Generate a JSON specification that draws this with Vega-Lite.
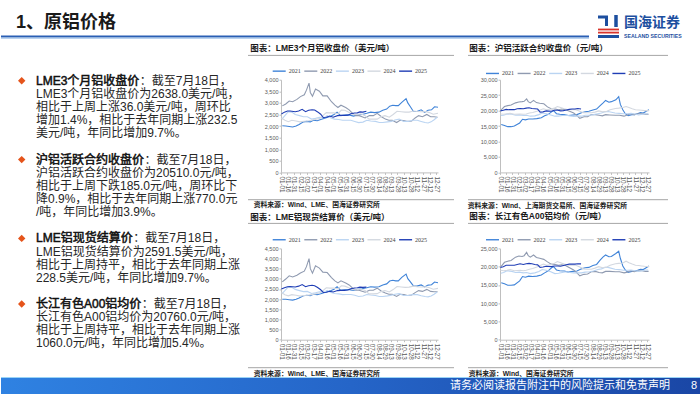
{
"$schema":"https://vega.github.io/schema/vega-lite/v6.json",
"background":"white","padding":0,"bounds":"flush","columns":3,"align":"each","spacing":{"row":75.7,"column":62},
"resolve":{"scale":{"color":"independent"},"legend":{"color":"independent"}},
"config":{"view":{"stroke":null},"font":"'Liberation Sans','Noto Sans CJK SC',sans-serif",
"axis":{"title":null,"grid":false,"domainColor":"#bfbfbf","tickColor":"#bfbfbf","labelColor":"#595959","labelFont":"Liberation Sans","tickSize":2},
"axisX":{"labelAngle":90,"labelAlign":"left","labelBaseline":"middle","labelFontSize":6.3,"labelPadding":1.5,"labelOverlap":false,"labelFlush":false},
"axisY":{"labelFontSize":5.5,"labelPadding":1},
"legend":{"orient":"none","direction":"horizontal","symbolType":"stroke","symbolSize":169,"symbolStrokeWidth":1.4,"labelFont":"Liberation Serif","labelFontSize":6,"labelColor":"#404040","labelOffset":2,"columnPadding":0.6,"padding":0}},
"concat":[
{"width":218,"height":1.6,
"data":{"values":[
{"line":0,"h":"LME3个月铝收盘价","r":"：截至7月18日，"},
{"line":1,"t":"LME3个月铝收盘价为2638.0美元/吨，"},
{"line":2,"t":"相比于上周上涨36.0美元/吨，周环比"},
{"line":3,"t":"增加1.4%，相比于去年同期上涨232.5"},
{"line":4,"t":"美元/吨，年同比增加9.7%。"},
{"line":6,"h":"沪铝活跃合约收盘价","r":"：截至7月18日，"},
{"line":7,"t":"沪铝活跃合约收盘价为20510.0元/吨，"},
{"line":8,"t":"相比于上周下跌185.0元/吨，周环比下"},
{"line":9,"t":"降0.9%，相比于去年同期上涨770.0元"},
{"line":10,"t":"/吨，年同比增加3.9%。"},
{"line":12,"h":"LME铝现货结算价","r":"：截至7月18日，"},
{"line":13,"t":"LME铝现货结算价为2591.5美元/吨，"},
{"line":14,"t":"相比于上周持平，相比于去年同期上涨"},
{"line":15,"t":"228.5美元/吨，年同比增加9.7%。"},
{"line":17,"h":"长江有色A00铝均价","r":"：截至7月18日，"},
{"line":18,"t":"长江有色A00铝均价为20760.0元/吨，"},
{"line":19,"t":"相比于上周持平，相比于去年同期上涨"},
{"line":20,"t":"1060.0元/吨，年同比增加5.4%。"}]},
"layer":[
{"transform":[{"filter":"datum.t"}],"mark":{"type":"text","align":"left","baseline":"middle","fontSize":12,"color":"#262626"},
 "encoding":{"text":{"field":"t"},"x":{"value":35},"y":{"field":"line","type":"quantitative","scale":{"domain":[-4.02,23.92],"range":[0,394]},"axis":null}}},
{"transform":[{"filter":"datum.h"}],"mark":{"type":"text","align":"left","baseline":"middle","fontSize":12,"color":"#111111","stroke":"#111111","strokeWidth":0.5},
 "encoding":{"text":{"field":"h"},"x":{"value":35},"y":{"field":"line","type":"quantitative"}}},
{"transform":[{"filter":"datum.line == 0"}],"mark":{"type":"text","align":"left","baseline":"middle","fontSize":12,"color":"#262626"},
 "encoding":{"text":{"field":"r"},"x":{"value":138.8},"y":{"field":"line","type":"quantitative"}}},
{"transform":[{"filter":"datum.line == 6"}],"mark":{"type":"text","align":"left","baseline":"middle","fontSize":12,"color":"#262626"},
 "encoding":{"text":{"field":"r"},"x":{"value":143.5},"y":{"field":"line","type":"quantitative"}}},
{"transform":[{"filter":"datum.line == 12"}],"mark":{"type":"text","align":"left","baseline":"middle","fontSize":12,"color":"#262626"},
 "encoding":{"text":{"field":"r"},"x":{"value":132.2},"y":{"field":"line","type":"quantitative"}}},
{"transform":[{"filter":"datum.line == 17"}],"mark":{"type":"text","align":"left","baseline":"middle","fontSize":12,"color":"#262626"},
 "encoding":{"text":{"field":"r"},"x":{"value":140.8},"y":{"field":"line","type":"quantitative"}}},
{"transform":[{"filter":"datum.h"}],"mark":{"type":"point","shape":"diamond","filled":true,"color":"#e5541b","size":55,"opacity":1},
 "encoding":{"x":{"value":20.7},"y":{"field":"line","type":"quantitative"}}},
{"data":{"values":[{"t":"1、原铝价格"}]},"mark":{"type":"text","align":"left","baseline":"middle","fontSize":18,"fontWeight":"bold","color":"#1a1a1a"},
 "encoding":{"text":{"field":"t"},"x":{"value":15},"y":{"value":21}}},
{"data":{"values":[{}]},"mark":{"type":"rule","color":"#2a5fb4","strokeWidth":2},"encoding":{"x":{"value":0},"x2":{"value":588},"y":{"value":34.5}}},
{"data":{"values":[{}]},"mark":{"type":"rule","color":"#9cc0e8","strokeWidth":1},"encoding":{"x":{"value":0},"x2":{"value":588},"y":{"value":36.2}}},
{"data":{"values":[{"t":"国海证券"}]},"mark":{"type":"text","align":"left","baseline":"middle","fontSize":14,"fontWeight":"bold","color":"#1d4f9f"},
 "encoding":{"text":{"field":"t"},"x":{"value":623},"y":{"value":21}}},
{"data":{"values":[{"t":"SEALAND SECURITIES"}]},"mark":{"type":"text","align":"left","baseline":"middle","fontSize":5.2,"fontWeight":"bold","color":"#1d4f9f","font":"Liberation Sans"},
 "encoding":{"text":{"field":"t"},"x":{"value":623},"y":{"value":33.5}}},
{"data":{"values":[{}]},"mark":{"type":"rule","color":"#1d4f9f","strokeWidth":3},"encoding":{"x":{"value":597},"x2":{"value":607},"y":{"value":15}}},
{"data":{"values":[{}]},"mark":{"type":"rule","color":"#1d4f9f","strokeWidth":3},"encoding":{"x":{"value":605.5},"y":{"value":15},"y2":{"value":24}}},
{"data":{"values":[{}]},"mark":{"type":"rule","color":"#1d4f9f","strokeWidth":3.5},"encoding":{"x":{"value":615},"y":{"value":13},"y2":{"value":25}}},
{"data":{"values":[{}]},"mark":{"type":"rule","color":"#d9342b","strokeWidth":1.8},"encoding":{"x":{"value":597},"x2":{"value":618},"y":{"value":27.5}}},
{"data":{"values":[{}]},"mark":{"type":"rule","color":"#d9342b","strokeWidth":1.8},"encoding":{"x":{"value":597},"x2":{"value":618},"y":{"value":30.6}}},
{"data":{"values":[{}]},"mark":{"type":"rule","color":"#1d4f9f","strokeWidth":3},"encoding":{"x":{"value":597},"x2":{"value":618},"y":{"value":34.5}}},
{"data":{"values":[{}]},"mark":{"type":"rect","fill":{"gradient":"linear","x1":0,"x2":1,"y1":0,"y2":0,"stops":[{"offset":0,"color":"#2f82e2"},{"offset":0.5,"color":"#2565c8"},{"offset":1,"color":"#1a46a5"}]}},
 "encoding":{"x":{"value":0},"x2":{"value":700},"y":{"value":375},"y2":{"value":394}}},
{"data":{"values":[{}]},"mark":{"type":"rule","color":"#9ad4f7","strokeWidth":1},"encoding":{"x":{"value":0},"x2":{"value":700},"y":{"value":375.5}}},
{"data":{"values":[{"t":"请务必阅读报告附注中的风险提示和免责声明"}]},"mark":{"type":"text","align":"left","baseline":"middle","fontSize":11,"color":"white"},
 "encoding":{"text":{"field":"t"},"x":{"value":449},"y":{"value":384}}},
{"data":{"values":[{"t":"8"}]},"mark":{"type":"text","align":"center","baseline":"middle","fontSize":11,"color":"white","font":"Liberation Sans"},
 "encoding":{"text":{"field":"t"},"x":{"value":693},"y":{"value":384}}}
]},
{"width":157,"height":1.6,"data":{"values":[{}]},"mark":{"type":"point","opacity":0}},
{"width":149,"height":1.6,"data":{"values":[{}]},"mark":{"type":"point","opacity":0}},
{"width":218,"height":1,"data":{"values":[{}]},"mark":{"type":"point","opacity":0}},
{"width":157,"height":92.7,
"data":{"format":{"parse":{"d":"utc:'%m-%d'"}},"values":[
{"yr":"2021","d":"01-04","v":2010},{"yr":"2021","d":"01-12","v":2000},{"yr":"2021","d":"01-20","v":1980},{"yr":"2021","d":"01-28","v":1960},{"yr":"2021","d":"02-05","v":2000},{"yr":"2021","d":"02-12","v":2070},{"yr":"2021","d":"02-22","v":2180},{"yr":"2021","d":"03-02","v":2200},{"yr":"2021","d":"03-10","v":2180},{"yr":"2021","d":"03-17","v":2250},{"yr":"2021","d":"03-26","v":2230},{"yr":"2021","d":"04-05","v":2290},{"yr":"2021","d":"04-16","v":2360},{"yr":"2021","d":"04-26","v":2420},{"yr":"2021","d":"05-04","v":2500},{"yr":"2021","d":"05-11","v":2600},{"yr":"2021","d":"05-19","v":2450},{"yr":"2021","d":"05-28","v":2470},{"yr":"2021","d":"06-08","v":2480},{"yr":"2021","d":"06-18","v":2430},{"yr":"2021","d":"06-28","v":2480},{"yr":"2021","d":"07-08","v":2500},{"yr":"2021","d":"07-19","v":2550},{"yr":"2021","d":"07-28","v":2600},{"yr":"2021","d":"08-06","v":2580},{"yr":"2021","d":"08-16","v":2600},{"yr":"2021","d":"08-25","v":2680},{"yr":"2021","d":"09-03","v":2730},{"yr":"2021","d":"09-10","v":2860},{"yr":"2021","d":"09-17","v":2900},{"yr":"2021","d":"09-24","v":2880},{"yr":"2021","d":"09-30","v":2880},{"yr":"2021","d":"10-08","v":3020},{"yr":"2021","d":"10-18","v":3180},{"yr":"2021","d":"10-22","v":3000},{"yr":"2021","d":"10-28","v":2830},{"yr":"2021","d":"11-04","v":2630},{"yr":"2021","d":"11-12","v":2630},{"yr":"2021","d":"11-22","v":2700},{"yr":"2021","d":"11-30","v":2590},{"yr":"2021","d":"12-08","v":2680},{"yr":"2021","d":"12-16","v":2700},{"yr":"2021","d":"12-23","v":2830},{"yr":"2021","d":"12-31","v":2810},
{"yr":"2022","d":"01-04","v":2870},{"yr":"2022","d":"01-12","v":2950},{"yr":"2022","d":"01-20","v":3080},{"yr":"2022","d":"01-28","v":3050},{"yr":"2022","d":"02-07","v":3150},{"yr":"2022","d":"02-15","v":3270},{"yr":"2022","d":"02-24","v":3350},{"yr":"2022","d":"03-01","v":3550},{"yr":"2022","d":"03-07","v":3850},{"yr":"2022","d":"03-10","v":3450},{"yr":"2022","d":"03-15","v":3290},{"yr":"2022","d":"03-22","v":3600},{"yr":"2022","d":"03-31","v":3500},{"yr":"2022","d":"04-08","v":3300},{"yr":"2022","d":"04-18","v":3300},{"yr":"2022","d":"04-28","v":3050},{"yr":"2022","d":"05-06","v":2900},{"yr":"2022","d":"05-13","v":2800},{"yr":"2022","d":"05-20","v":2900},{"yr":"2022","d":"05-31","v":2800},{"yr":"2022","d":"06-08","v":2700},{"yr":"2022","d":"06-16","v":2550},{"yr":"2022","d":"06-24","v":2450},{"yr":"2022","d":"07-01","v":2450},{"yr":"2022","d":"07-08","v":2400},{"yr":"2022","d":"07-15","v":2350},{"yr":"2022","d":"07-25","v":2450},{"yr":"2022","d":"08-03","v":2450},{"yr":"2022","d":"08-12","v":2550},{"yr":"2022","d":"08-22","v":2400},{"yr":"2022","d":"08-31","v":2300},{"yr":"2022","d":"09-08","v":2250},{"yr":"2022","d":"09-16","v":2250},{"yr":"2022","d":"09-26","v":2150},{"yr":"2022","d":"10-04","v":2250},{"yr":"2022","d":"10-13","v":2240},{"yr":"2022","d":"10-21","v":2200},{"yr":"2022","d":"10-31","v":2220},{"yr":"2022","d":"11-08","v":2350},{"yr":"2022","d":"11-16","v":2450},{"yr":"2022","d":"11-25","v":2400},{"yr":"2022","d":"12-05","v":2500},{"yr":"2022","d":"12-14","v":2400},{"yr":"2022","d":"12-22","v":2400},{"yr":"2022","d":"12-30","v":2380},
{"yr":"2023","d":"01-03","v":2300},{"yr":"2023","d":"01-10","v":2450},{"yr":"2023","d":"01-18","v":2620},{"yr":"2023","d":"01-26","v":2600},{"yr":"2023","d":"02-03","v":2500},{"yr":"2023","d":"02-13","v":2450},{"yr":"2023","d":"02-22","v":2400},{"yr":"2023","d":"03-03","v":2400},{"yr":"2023","d":"03-13","v":2300},{"yr":"2023","d":"03-22","v":2330},{"yr":"2023","d":"03-31","v":2380},{"yr":"2023","d":"04-12","v":2370},{"yr":"2023","d":"04-18","v":2450},{"yr":"2023","d":"04-27","v":2350},{"yr":"2023","d":"05-05","v":2300},{"yr":"2023","d":"05-15","v":2280},{"yr":"2023","d":"05-24","v":2250},{"yr":"2023","d":"06-01","v":2250},{"yr":"2023","d":"06-12","v":2250},{"yr":"2023","d":"06-21","v":2200},{"yr":"2023","d":"06-30","v":2150},{"yr":"2023","d":"07-10","v":2170},{"yr":"2023","d":"07-19","v":2250},{"yr":"2023","d":"07-28","v":2220},{"yr":"2023","d":"08-08","v":2200},{"yr":"2023","d":"08-17","v":2150},{"yr":"2023","d":"08-25","v":2150},{"yr":"2023","d":"09-05","v":2180},{"yr":"2023","d":"09-14","v":2200},{"yr":"2023","d":"09-22","v":2260},{"yr":"2023","d":"10-02","v":2300},{"yr":"2023","d":"10-12","v":2200},{"yr":"2023","d":"10-23","v":2200},{"yr":"2023","d":"11-02","v":2250},{"yr":"2023","d":"11-13","v":2250},{"yr":"2023","d":"11-22","v":2200},{"yr":"2023","d":"12-01","v":2150},{"yr":"2023","d":"12-08","v":2130},{"yr":"2023","d":"12-15","v":2180},{"yr":"2023","d":"12-22","v":2270},{"yr":"2023","d":"12-29","v":2380},
{"yr":"2024","d":"01-02","v":2350},{"yr":"2024","d":"01-10","v":2250},{"yr":"2024","d":"01-18","v":2190},{"yr":"2024","d":"01-26","v":2250},{"yr":"2024","d":"02-05","v":2220},{"yr":"2024","d":"02-14","v":2180},{"yr":"2024","d":"02-23","v":2210},{"yr":"2024","d":"03-04","v":2220},{"yr":"2024","d":"03-12","v":2250},{"yr":"2024","d":"03-21","v":2280},{"yr":"2024","d":"04-02","v":2340},{"yr":"2024","d":"04-10","v":2480},{"yr":"2024","d":"04-16","v":2580},{"yr":"2024","d":"04-24","v":2570},{"yr":"2024","d":"05-03","v":2570},{"yr":"2024","d":"05-13","v":2530},{"yr":"2024","d":"05-21","v":2690},{"yr":"2024","d":"05-29","v":2680},{"yr":"2024","d":"06-07","v":2600},{"yr":"2024","d":"06-17","v":2500},{"yr":"2024","d":"06-26","v":2500},{"yr":"2024","d":"07-05","v":2530},{"yr":"2024","d":"07-15","v":2450},{"yr":"2024","d":"07-24","v":2300},{"yr":"2024","d":"08-02","v":2300},{"yr":"2024","d":"08-12","v":2300},{"yr":"2024","d":"08-21","v":2400},{"yr":"2024","d":"08-30","v":2450},{"yr":"2024","d":"09-09","v":2380},{"yr":"2024","d":"09-18","v":2500},{"yr":"2024","d":"09-27","v":2640},{"yr":"2024","d":"10-07","v":2620},{"yr":"2024","d":"10-16","v":2600},{"yr":"2024","d":"10-25","v":2600},{"yr":"2024","d":"11-04","v":2650},{"yr":"2024","d":"11-13","v":2630},{"yr":"2024","d":"11-22","v":2620},{"yr":"2024","d":"12-02","v":2630},{"yr":"2024","d":"12-11","v":2580},{"yr":"2024","d":"12-20","v":2510},{"yr":"2024","d":"12-31","v":2550},
{"yr":"2025","d":"01-02","v":2520},{"yr":"2025","d":"01-09","v":2600},{"yr":"2025","d":"01-16","v":2650},{"yr":"2025","d":"01-22","v":2650},{"yr":"2025","d":"02-03","v":2620},{"yr":"2025","d":"02-11","v":2650},{"yr":"2025","d":"02-19","v":2720},{"yr":"2025","d":"02-27","v":2620},{"yr":"2025","d":"03-06","v":2680},{"yr":"2025","d":"03-14","v":2700},{"yr":"2025","d":"03-20","v":2690},{"yr":"2025","d":"03-27","v":2610},{"yr":"2025","d":"04-03","v":2510},{"yr":"2025","d":"04-09","v":2370},{"yr":"2025","d":"04-16","v":2380},{"yr":"2025","d":"04-24","v":2430},{"yr":"2025","d":"05-02","v":2380},{"yr":"2025","d":"05-12","v":2450},{"yr":"2025","d":"05-20","v":2460},{"yr":"2025","d":"05-28","v":2460},{"yr":"2025","d":"06-05","v":2470},{"yr":"2025","d":"06-12","v":2530},{"yr":"2025","d":"06-20","v":2560},{"yr":"2025","d":"06-27","v":2570},{"yr":"2025","d":"07-03","v":2610},{"yr":"2025","d":"07-10","v":2600},{"yr":"2025","d":"07-18","v":2638}]},
"layer":[
{"mark":{"type":"line","strokeWidth":1.1},
 "encoding":{
  "x":{"field":"d","type":"temporal","scale":{"type":"utc","domain":[{"year":1900,"month":1,"date":1,"utc":true},{"year":1900,"month":12,"date":31,"utc":true}]},
   "axis":{"labelExpr":"utcFormat(datum.value, '%m-%d')","values":[{"year":1900,"month":1,"date":1,"utc":true},{"year":1900,"month":1,"date":16,"utc":true},{"year":1900,"month":1,"date":31,"utc":true},{"year":1900,"month":2,"date":15,"utc":true},{"year":1900,"month":3,"date":2,"utc":true},{"year":1900,"month":3,"date":17,"utc":true},{"year":1900,"month":4,"date":1,"utc":true},{"year":1900,"month":4,"date":16,"utc":true},{"year":1900,"month":5,"date":1,"utc":true},{"year":1900,"month":5,"date":16,"utc":true},{"year":1900,"month":5,"date":31,"utc":true},{"year":1900,"month":6,"date":15,"utc":true},{"year":1900,"month":6,"date":30,"utc":true},{"year":1900,"month":7,"date":15,"utc":true},{"year":1900,"month":7,"date":30,"utc":true},{"year":1900,"month":8,"date":14,"utc":true},{"year":1900,"month":8,"date":29,"utc":true},{"year":1900,"month":9,"date":13,"utc":true},{"year":1900,"month":9,"date":28,"utc":true},{"year":1900,"month":10,"date":13,"utc":true},{"year":1900,"month":10,"date":28,"utc":true},{"year":1900,"month":11,"date":12,"utc":true},{"year":1900,"month":11,"date":27,"utc":true},{"year":1900,"month":12,"date":12,"utc":true},{"year":1900,"month":12,"date":27,"utc":true}]}},
  "y":{"field":"v","type":"quantitative","scale":{"domain":[0,4000],"nice":false},"axis":{"values":[0,500,1000,1500,2000,2500,3000,3500,4000]}},
  "color":{"field":"yr","type":"nominal","scale":{"domain":["2021","2022","2023","2024","2025"],"range":["#3f83d8","#8f9ab0","#bad4f2","#d3d8e0","#1f3db5"]},"legend":{"title":null,"legendX":-9.3,"legendY":-16.3}}}},
{"data":{"values":[{"t":"图表：LME3个月铝收盘价（美元/吨）"}]},"mark":{"type":"text","align":"left","baseline":"middle","fontSize":8.5,"fontWeight":"bold","color":"#1a1a1a"},"encoding":{"text":{"field":"t"},"x":{"value":-30.7},"y":{"value":-31.3}}},
{"data":{"values":[{}]},"mark":{"type":"rule","color":"#a6a6a6","strokeWidth":1},"encoding":{"x":{"value":-33},"x2":{"value":173},"y":{"value":-24.3}}},
{"data":{"values":[{}]},"mark":{"type":"rule","color":"#a6a6a6","strokeWidth":1},"encoding":{"x":{"value":-33},"x2":{"value":173},"y":{"value":120}}},
{"data":{"values":[{"t":"资料来源：Wind、LME、国海证券研究所"}]},"mark":{"type":"text","align":"left","baseline":"middle","fontSize":6.8,"fontWeight":"bold","color":"#1a1a1a"},"encoding":{"text":{"field":"t"},"x":{"value":-27.3},"y":{"value":125}}}
]},
{"width":149,"height":92.7,
"data":{"format":{"parse":{"d":"utc:'%m-%d'"}},"values":[
{"yr":"2021","d":"01-04","v":15500},{"yr":"2021","d":"01-12","v":15200},{"yr":"2021","d":"01-20","v":14800},{"yr":"2021","d":"01-28","v":14800},{"yr":"2021","d":"02-05","v":15000},{"yr":"2021","d":"02-18","v":16000},{"yr":"2021","d":"02-25","v":17200},{"yr":"2021","d":"03-04","v":17000},{"yr":"2021","d":"03-12","v":17300},{"yr":"2021","d":"03-22","v":17300},{"yr":"2021","d":"04-01","v":17400},{"yr":"2021","d":"04-12","v":17700},{"yr":"2021","d":"04-20","v":18300},{"yr":"2021","d":"04-28","v":18700},{"yr":"2021","d":"05-07","v":19600},{"yr":"2021","d":"05-12","v":20000},{"yr":"2021","d":"05-19","v":19000},{"yr":"2021","d":"05-27","v":18800},{"yr":"2021","d":"06-07","v":18700},{"yr":"2021","d":"06-17","v":18400},{"yr":"2021","d":"06-28","v":18600},{"yr":"2021","d":"07-08","v":18700},{"yr":"2021","d":"07-19","v":19300},{"yr":"2021","d":"07-28","v":19600},{"yr":"2021","d":"08-06","v":19800},{"yr":"2021","d":"08-16","v":20200},{"yr":"2021","d":"08-25","v":20500},{"yr":"2021","d":"09-02","v":21500},{"yr":"2021","d":"09-10","v":22500},{"yr":"2021","d":"09-16","v":23300},{"yr":"2021","d":"09-24","v":22700},{"yr":"2021","d":"09-30","v":22900},{"yr":"2021","d":"10-11","v":23500},{"yr":"2021","d":"10-18","v":24500},{"yr":"2021","d":"10-22","v":22000},{"yr":"2021","d":"10-28","v":20300},{"yr":"2021","d":"11-03","v":19000},{"yr":"2021","d":"11-10","v":18400},{"yr":"2021","d":"11-19","v":18700},{"yr":"2021","d":"11-26","v":18700},{"yr":"2021","d":"12-03","v":19000},{"yr":"2021","d":"12-10","v":19400},{"yr":"2021","d":"12-17","v":19200},{"yr":"2021","d":"12-24","v":19800},{"yr":"2021","d":"12-31","v":20300},
{"yr":"2022","d":"01-04","v":20200},{"yr":"2022","d":"01-12","v":21300},{"yr":"2022","d":"01-20","v":21600},{"yr":"2022","d":"01-28","v":21800},{"yr":"2022","d":"02-08","v":22500},{"yr":"2022","d":"02-16","v":22800},{"yr":"2022","d":"02-24","v":22900},{"yr":"2022","d":"03-01","v":23000},{"yr":"2022","d":"03-07","v":23800},{"yr":"2022","d":"03-11","v":22900},{"yr":"2022","d":"03-16","v":22500},{"yr":"2022","d":"03-24","v":23300},{"yr":"2022","d":"03-31","v":22600},{"yr":"2022","d":"04-08","v":22400},{"yr":"2022","d":"04-18","v":22200},{"yr":"2022","d":"04-27","v":21200},{"yr":"2022","d":"05-06","v":20600},{"yr":"2022","d":"05-16","v":20500},{"yr":"2022","d":"05-24","v":20300},{"yr":"2022","d":"06-01","v":20500},{"yr":"2022","d":"06-10","v":20300},{"yr":"2022","d":"06-20","v":19800},{"yr":"2022","d":"06-30","v":19200},{"yr":"2022","d":"07-08","v":18400},{"yr":"2022","d":"07-15","v":17500},{"yr":"2022","d":"07-25","v":18000},{"yr":"2022","d":"08-03","v":18000},{"yr":"2022","d":"08-12","v":18700},{"yr":"2022","d":"08-22","v":18700},{"yr":"2022","d":"08-31","v":18500},{"yr":"2022","d":"09-08","v":18300},{"yr":"2022","d":"09-16","v":18700},{"yr":"2022","d":"09-26","v":18600},{"yr":"2022","d":"10-10","v":18500},{"yr":"2022","d":"10-20","v":18500},{"yr":"2022","d":"10-31","v":18200},{"yr":"2022","d":"11-08","v":18600},{"yr":"2022","d":"11-16","v":19000},{"yr":"2022","d":"11-25","v":18700},{"yr":"2022","d":"12-05","v":19000},{"yr":"2022","d":"12-14","v":19000},{"yr":"2022","d":"12-22","v":18800},{"yr":"2022","d":"12-30","v":18800},
{"yr":"2023","d":"01-03","v":18400},{"yr":"2023","d":"01-10","v":18500},{"yr":"2023","d":"01-18","v":18900},{"yr":"2023","d":"01-30","v":18800},{"yr":"2023","d":"02-08","v":18500},{"yr":"2023","d":"02-17","v":18600},{"yr":"2023","d":"02-27","v":18400},{"yr":"2023","d":"03-07","v":18500},{"yr":"2023","d":"03-16","v":18200},{"yr":"2023","d":"03-27","v":18300},{"yr":"2023","d":"04-06","v":18700},{"yr":"2023","d":"04-14","v":19200},{"yr":"2023","d":"04-24","v":19000},{"yr":"2023","d":"05-05","v":18600},{"yr":"2023","d":"05-15","v":18200},{"yr":"2023","d":"05-24","v":18200},{"yr":"2023","d":"06-02","v":18400},{"yr":"2023","d":"06-12","v":18500},{"yr":"2023","d":"06-21","v":18300},{"yr":"2023","d":"06-30","v":18100},{"yr":"2023","d":"07-10","v":18200},{"yr":"2023","d":"07-19","v":18200},{"yr":"2023","d":"07-28","v":18500},{"yr":"2023","d":"08-08","v":18500},{"yr":"2023","d":"08-17","v":18700},{"yr":"2023","d":"08-28","v":19000},{"yr":"2023","d":"09-06","v":19200},{"yr":"2023","d":"09-14","v":19600},{"yr":"2023","d":"09-22","v":19700},{"yr":"2023","d":"10-09","v":19200},{"yr":"2023","d":"10-19","v":19100},{"yr":"2023","d":"10-30","v":19000},{"yr":"2023","d":"11-08","v":19000},{"yr":"2023","d":"11-17","v":19100},{"yr":"2023","d":"11-27","v":18900},{"yr":"2023","d":"12-06","v":18600},{"yr":"2023","d":"12-14","v":18800},{"yr":"2023","d":"12-22","v":19000},{"yr":"2023","d":"12-29","v":19000},
{"yr":"2024","d":"01-02","v":18900},{"yr":"2024","d":"01-10","v":18800},{"yr":"2024","d":"01-18","v":19000},{"yr":"2024","d":"01-26","v":19100},{"yr":"2024","d":"02-05","v":18800},{"yr":"2024","d":"02-19","v":18900},{"yr":"2024","d":"02-27","v":18800},{"yr":"2024","d":"03-06","v":18900},{"yr":"2024","d":"03-14","v":19200},{"yr":"2024","d":"03-22","v":19400},{"yr":"2024","d":"04-01","v":19800},{"yr":"2024","d":"04-09","v":20200},{"yr":"2024","d":"04-17","v":20600},{"yr":"2024","d":"04-25","v":20300},{"yr":"2024","d":"05-06","v":20500},{"yr":"2024","d":"05-14","v":20800},{"yr":"2024","d":"05-21","v":21300},{"yr":"2024","d":"05-29","v":21000},{"yr":"2024","d":"06-07","v":20600},{"yr":"2024","d":"06-17","v":20300},{"yr":"2024","d":"06-26","v":20300},{"yr":"2024","d":"07-05","v":20300},{"yr":"2024","d":"07-15","v":19800},{"yr":"2024","d":"07-24","v":19300},{"yr":"2024","d":"08-02","v":19300},{"yr":"2024","d":"08-12","v":19300},{"yr":"2024","d":"08-21","v":19500},{"yr":"2024","d":"08-30","v":19900},{"yr":"2024","d":"09-09","v":19600},{"yr":"2024","d":"09-19","v":19800},{"yr":"2024","d":"09-27","v":20300},{"yr":"2024","d":"10-10","v":20700},{"yr":"2024","d":"10-18","v":20800},{"yr":"2024","d":"10-28","v":21000},{"yr":"2024","d":"11-05","v":21300},{"yr":"2024","d":"11-12","v":21000},{"yr":"2024","d":"11-20","v":20600},{"yr":"2024","d":"11-28","v":20300},{"yr":"2024","d":"12-06","v":20200},{"yr":"2024","d":"12-13","v":20100},{"yr":"2024","d":"12-20","v":20000},{"yr":"2024","d":"12-31","v":20000},
{"yr":"2025","d":"01-02","v":19900},{"yr":"2025","d":"01-09","v":20100},{"yr":"2025","d":"01-16","v":20400},{"yr":"2025","d":"01-23","v":20300},{"yr":"2025","d":"02-05","v":20300},{"yr":"2025","d":"02-12","v":20600},{"yr":"2025","d":"02-19","v":20700},{"yr":"2025","d":"02-27","v":20600},{"yr":"2025","d":"03-06","v":20800},{"yr":"2025","d":"03-13","v":20900},{"yr":"2025","d":"03-20","v":20700},{"yr":"2025","d":"03-27","v":20600},{"yr":"2025","d":"04-03","v":20500},{"yr":"2025","d":"04-09","v":19500},{"yr":"2025","d":"04-16","v":19600},{"yr":"2025","d":"04-24","v":19900},{"yr":"2025","d":"05-06","v":19800},{"yr":"2025","d":"05-14","v":20100},{"yr":"2025","d":"05-22","v":20100},{"yr":"2025","d":"05-29","v":19900},{"yr":"2025","d":"06-05","v":20000},{"yr":"2025","d":"06-12","v":20200},{"yr":"2025","d":"06-19","v":20400},{"yr":"2025","d":"06-26","v":20500},{"yr":"2025","d":"07-03","v":20500},{"yr":"2025","d":"07-10","v":20700},{"yr":"2025","d":"07-18","v":20510}]},
"layer":[
{"mark":{"type":"line","strokeWidth":1.1},
 "encoding":{
  "x":{"field":"d","type":"temporal","scale":{"type":"utc","domain":[{"year":1900,"month":1,"date":1,"utc":true},{"year":1900,"month":12,"date":31,"utc":true}]},
   "axis":{"labelExpr":"utcFormat(datum.value, '%m-%d')","values":[{"year":1900,"month":1,"date":1,"utc":true},{"year":1900,"month":1,"date":16,"utc":true},{"year":1900,"month":1,"date":31,"utc":true},{"year":1900,"month":2,"date":15,"utc":true},{"year":1900,"month":3,"date":2,"utc":true},{"year":1900,"month":3,"date":17,"utc":true},{"year":1900,"month":4,"date":1,"utc":true},{"year":1900,"month":4,"date":16,"utc":true},{"year":1900,"month":5,"date":1,"utc":true},{"year":1900,"month":5,"date":16,"utc":true},{"year":1900,"month":5,"date":31,"utc":true},{"year":1900,"month":6,"date":15,"utc":true},{"year":1900,"month":6,"date":30,"utc":true},{"year":1900,"month":7,"date":15,"utc":true},{"year":1900,"month":7,"date":30,"utc":true},{"year":1900,"month":8,"date":14,"utc":true},{"year":1900,"month":8,"date":29,"utc":true},{"year":1900,"month":9,"date":13,"utc":true},{"year":1900,"month":9,"date":28,"utc":true},{"year":1900,"month":10,"date":13,"utc":true},{"year":1900,"month":10,"date":28,"utc":true},{"year":1900,"month":11,"date":12,"utc":true},{"year":1900,"month":11,"date":27,"utc":true},{"year":1900,"month":12,"date":12,"utc":true},{"year":1900,"month":12,"date":27,"utc":true}]}},
  "y":{"field":"v","type":"quantitative","scale":{"domain":[0,30000],"nice":false},"axis":{"values":[0,5000,10000,15000,20000,25000,30000]}},
  "color":{"field":"yr","type":"nominal","scale":{"domain":["2021","2022","2023","2024","2025"],"range":["#3f83d8","#8f9ab0","#bad4f2","#d3d8e0","#1f3db5"]},"legend":{"title":null,"legendX":-15,"legendY":-14}}}},
{"data":{"values":[{"t":"图表：沪铝活跃合约收盘价（元/吨）"}]},"mark":{"type":"text","align":"left","baseline":"middle","fontSize":8.5,"fontWeight":"bold","color":"#1a1a1a"},"encoding":{"text":{"field":"t"},"x":{"value":-30.7},"y":{"value":-31.3}}},
{"data":{"values":[{}]},"mark":{"type":"rule","color":"#a6a6a6","strokeWidth":1},"encoding":{"x":{"value":-32},"x2":{"value":168},"y":{"value":-24.3}}},
{"data":{"values":[{}]},"mark":{"type":"rule","color":"#a6a6a6","strokeWidth":1},"encoding":{"x":{"value":-32},"x2":{"value":168},"y":{"value":120}}},
{"data":{"values":[{"t":"资料来源：Wind、上海期货交易所、国海证券研究所"}]},"mark":{"type":"text","align":"left","baseline":"middle","fontSize":6.8,"fontWeight":"bold","color":"#1a1a1a"},"encoding":{"text":{"field":"t"},"x":{"value":-32.3},"y":{"value":126}}}
]},
{"width":218,"height":1,"data":{"values":[{}]},"mark":{"type":"point","opacity":0}},
{"width":157,"height":91.3,
"data":{"format":{"parse":{"d":"utc:'%m-%d'"}},"values":[
{"yr":"2021","d":"01-04","v":1990},{"yr":"2021","d":"01-12","v":1990},{"yr":"2021","d":"01-20","v":1970},{"yr":"2021","d":"01-28","v":1950},{"yr":"2021","d":"02-05","v":1990},{"yr":"2021","d":"02-12","v":2060},{"yr":"2021","d":"02-22","v":2170},{"yr":"2021","d":"03-02","v":2190},{"yr":"2021","d":"03-10","v":2170},{"yr":"2021","d":"03-17","v":2240},{"yr":"2021","d":"03-26","v":2220},{"yr":"2021","d":"04-05","v":2280},{"yr":"2021","d":"04-16","v":2350},{"yr":"2021","d":"04-26","v":2410},{"yr":"2021","d":"05-04","v":2490},{"yr":"2021","d":"05-11","v":2610},{"yr":"2021","d":"05-19","v":2440},{"yr":"2021","d":"05-28","v":2460},{"yr":"2021","d":"06-08","v":2470},{"yr":"2021","d":"06-18","v":2430},{"yr":"2021","d":"06-28","v":2480},{"yr":"2021","d":"07-08","v":2510},{"yr":"2021","d":"07-19","v":2560},{"yr":"2021","d":"07-28","v":2610},{"yr":"2021","d":"08-06","v":2590},{"yr":"2021","d":"08-16","v":2610},{"yr":"2021","d":"08-25","v":2700},{"yr":"2021","d":"09-03","v":2750},{"yr":"2021","d":"09-10","v":2890},{"yr":"2021","d":"09-17","v":2930},{"yr":"2021","d":"09-24","v":2900},{"yr":"2021","d":"09-30","v":2900},{"yr":"2021","d":"10-08","v":3070},{"yr":"2021","d":"10-18","v":3230},{"yr":"2021","d":"10-22","v":3010},{"yr":"2021","d":"10-28","v":2850},{"yr":"2021","d":"11-04","v":2650},{"yr":"2021","d":"11-12","v":2640},{"yr":"2021","d":"11-22","v":2700},{"yr":"2021","d":"11-30","v":2600},{"yr":"2021","d":"12-08","v":2690},{"yr":"2021","d":"12-16","v":2710},{"yr":"2021","d":"12-23","v":2840},{"yr":"2021","d":"12-31","v":2810},
{"yr":"2022","d":"01-04","v":2850},{"yr":"2022","d":"01-12","v":2990},{"yr":"2022","d":"01-20","v":3150},{"yr":"2022","d":"01-28","v":3090},{"yr":"2022","d":"02-07","v":3180},{"yr":"2022","d":"02-15","v":3290},{"yr":"2022","d":"02-24","v":3380},{"yr":"2022","d":"03-01","v":3600},{"yr":"2022","d":"03-07","v":4000},{"yr":"2022","d":"03-10","v":3500},{"yr":"2022","d":"03-15","v":3280},{"yr":"2022","d":"03-22","v":3640},{"yr":"2022","d":"03-31","v":3530},{"yr":"2022","d":"04-08","v":3330},{"yr":"2022","d":"04-18","v":3310},{"yr":"2022","d":"04-28","v":3060},{"yr":"2022","d":"05-06","v":2900},{"yr":"2022","d":"05-13","v":2800},{"yr":"2022","d":"05-20","v":2900},{"yr":"2022","d":"05-31","v":2790},{"yr":"2022","d":"06-08","v":2700},{"yr":"2022","d":"06-16","v":2540},{"yr":"2022","d":"06-24","v":2440},{"yr":"2022","d":"07-01","v":2440},{"yr":"2022","d":"07-08","v":2390},{"yr":"2022","d":"07-15","v":2340},{"yr":"2022","d":"07-25","v":2440},{"yr":"2022","d":"08-03","v":2440},{"yr":"2022","d":"08-12","v":2540},{"yr":"2022","d":"08-22","v":2390},{"yr":"2022","d":"08-31","v":2300},{"yr":"2022","d":"09-08","v":2240},{"yr":"2022","d":"09-16","v":2240},{"yr":"2022","d":"09-26","v":2130},{"yr":"2022","d":"10-04","v":2240},{"yr":"2022","d":"10-13","v":2230},{"yr":"2022","d":"10-21","v":2180},{"yr":"2022","d":"10-31","v":2200},{"yr":"2022","d":"11-08","v":2320},{"yr":"2022","d":"11-16","v":2420},{"yr":"2022","d":"11-25","v":2380},{"yr":"2022","d":"12-05","v":2480},{"yr":"2022","d":"12-14","v":2380},{"yr":"2022","d":"12-22","v":2360},{"yr":"2022","d":"12-30","v":2360},
{"yr":"2023","d":"01-03","v":2260},{"yr":"2023","d":"01-10","v":2420},{"yr":"2023","d":"01-18","v":2600},{"yr":"2023","d":"01-26","v":2580},{"yr":"2023","d":"02-03","v":2480},{"yr":"2023","d":"02-13","v":2420},{"yr":"2023","d":"02-22","v":2370},{"yr":"2023","d":"03-03","v":2380},{"yr":"2023","d":"03-13","v":2280},{"yr":"2023","d":"03-22","v":2310},{"yr":"2023","d":"03-31","v":2360},{"yr":"2023","d":"04-12","v":2350},{"yr":"2023","d":"04-18","v":2430},{"yr":"2023","d":"04-27","v":2330},{"yr":"2023","d":"05-05","v":2280},{"yr":"2023","d":"05-15","v":2260},{"yr":"2023","d":"05-24","v":2220},{"yr":"2023","d":"06-01","v":2230},{"yr":"2023","d":"06-12","v":2230},{"yr":"2023","d":"06-21","v":2190},{"yr":"2023","d":"06-30","v":2130},{"yr":"2023","d":"07-10","v":2150},{"yr":"2023","d":"07-19","v":2230},{"yr":"2023","d":"07-28","v":2200},{"yr":"2023","d":"08-08","v":2180},{"yr":"2023","d":"08-17","v":2130},{"yr":"2023","d":"08-25","v":2130},{"yr":"2023","d":"09-05","v":2160},{"yr":"2023","d":"09-14","v":2190},{"yr":"2023","d":"09-22","v":2240},{"yr":"2023","d":"10-02","v":2270},{"yr":"2023","d":"10-12","v":2180},{"yr":"2023","d":"10-23","v":2180},{"yr":"2023","d":"11-02","v":2220},{"yr":"2023","d":"11-13","v":2220},{"yr":"2023","d":"11-22","v":2170},{"yr":"2023","d":"12-01","v":2130},{"yr":"2023","d":"12-08","v":2110},{"yr":"2023","d":"12-15","v":2150},{"yr":"2023","d":"12-22","v":2240},{"yr":"2023","d":"12-29","v":2350},
{"yr":"2024","d":"01-02","v":2330},{"yr":"2024","d":"01-10","v":2220},{"yr":"2024","d":"01-18","v":2160},{"yr":"2024","d":"01-26","v":2220},{"yr":"2024","d":"02-05","v":2190},{"yr":"2024","d":"02-14","v":2150},{"yr":"2024","d":"02-23","v":2180},{"yr":"2024","d":"03-04","v":2190},{"yr":"2024","d":"03-12","v":2220},{"yr":"2024","d":"03-21","v":2250},{"yr":"2024","d":"04-02","v":2310},{"yr":"2024","d":"04-10","v":2450},{"yr":"2024","d":"04-16","v":2560},{"yr":"2024","d":"04-24","v":2540},{"yr":"2024","d":"05-03","v":2540},{"yr":"2024","d":"05-13","v":2500},{"yr":"2024","d":"05-21","v":2660},{"yr":"2024","d":"05-29","v":2640},{"yr":"2024","d":"06-07","v":2560},{"yr":"2024","d":"06-17","v":2460},{"yr":"2024","d":"06-26","v":2470},{"yr":"2024","d":"07-05","v":2500},{"yr":"2024","d":"07-15","v":2420},{"yr":"2024","d":"07-24","v":2260},{"yr":"2024","d":"08-02","v":2260},{"yr":"2024","d":"08-12","v":2270},{"yr":"2024","d":"08-21","v":2370},{"yr":"2024","d":"08-30","v":2420},{"yr":"2024","d":"09-09","v":2350},{"yr":"2024","d":"09-18","v":2470},{"yr":"2024","d":"09-27","v":2620},{"yr":"2024","d":"10-07","v":2600},{"yr":"2024","d":"10-16","v":2580},{"yr":"2024","d":"10-25","v":2590},{"yr":"2024","d":"11-04","v":2640},{"yr":"2024","d":"11-13","v":2610},{"yr":"2024","d":"11-22","v":2600},{"yr":"2024","d":"12-02","v":2610},{"yr":"2024","d":"12-11","v":2560},{"yr":"2024","d":"12-20","v":2490},{"yr":"2024","d":"12-31","v":2530},
{"yr":"2025","d":"01-02","v":2500},{"yr":"2025","d":"01-09","v":2560},{"yr":"2025","d":"01-16","v":2610},{"yr":"2025","d":"01-22","v":2620},{"yr":"2025","d":"02-03","v":2600},{"yr":"2025","d":"02-11","v":2640},{"yr":"2025","d":"02-19","v":2720},{"yr":"2025","d":"02-27","v":2610},{"yr":"2025","d":"03-06","v":2660},{"yr":"2025","d":"03-14","v":2680},{"yr":"2025","d":"03-20","v":2660},{"yr":"2025","d":"03-27","v":2570},{"yr":"2025","d":"04-03","v":2460},{"yr":"2025","d":"04-09","v":2330},{"yr":"2025","d":"04-16","v":2340},{"yr":"2025","d":"04-24","v":2390},{"yr":"2025","d":"05-02","v":2350},{"yr":"2025","d":"05-12","v":2420},{"yr":"2025","d":"05-20","v":2430},{"yr":"2025","d":"05-28","v":2430},{"yr":"2025","d":"06-05","v":2450},{"yr":"2025","d":"06-12","v":2510},{"yr":"2025","d":"06-20","v":2550},{"yr":"2025","d":"06-27","v":2560},{"yr":"2025","d":"07-03","v":2590},{"yr":"2025","d":"07-10","v":2580},{"yr":"2025","d":"07-18","v":2592}]},
"layer":[
{"mark":{"type":"line","strokeWidth":1.1},
 "encoding":{
  "x":{"field":"d","type":"temporal","scale":{"type":"utc","domain":[{"year":1900,"month":1,"date":1,"utc":true},{"year":1900,"month":12,"date":31,"utc":true}]},
   "axis":{"labelExpr":"utcFormat(datum.value, '%m-%d')","values":[{"year":1900,"month":1,"date":1,"utc":true},{"year":1900,"month":1,"date":16,"utc":true},{"year":1900,"month":1,"date":31,"utc":true},{"year":1900,"month":2,"date":15,"utc":true},{"year":1900,"month":3,"date":2,"utc":true},{"year":1900,"month":3,"date":17,"utc":true},{"year":1900,"month":4,"date":1,"utc":true},{"year":1900,"month":4,"date":16,"utc":true},{"year":1900,"month":5,"date":1,"utc":true},{"year":1900,"month":5,"date":16,"utc":true},{"year":1900,"month":5,"date":31,"utc":true},{"year":1900,"month":6,"date":15,"utc":true},{"year":1900,"month":6,"date":30,"utc":true},{"year":1900,"month":7,"date":15,"utc":true},{"year":1900,"month":7,"date":30,"utc":true},{"year":1900,"month":8,"date":14,"utc":true},{"year":1900,"month":8,"date":29,"utc":true},{"year":1900,"month":9,"date":13,"utc":true},{"year":1900,"month":9,"date":28,"utc":true},{"year":1900,"month":10,"date":13,"utc":true},{"year":1900,"month":10,"date":28,"utc":true},{"year":1900,"month":11,"date":12,"utc":true},{"year":1900,"month":11,"date":27,"utc":true},{"year":1900,"month":12,"date":12,"utc":true},{"year":1900,"month":12,"date":27,"utc":true}]}},
  "y":{"field":"v","type":"quantitative","scale":{"domain":[0,4500],"nice":false},"axis":{"values":[0,500,1000,1500,2000,2500,3000,3500,4000,4500]}},
  "color":{"field":"yr","type":"nominal","scale":{"domain":["2021","2022","2023","2024","2025"],"range":["#3f83d8","#8f9ab0","#bad4f2","#d3d8e0","#1f3db5"]},"legend":{"title":null,"legendX":-9.3,"legendY":-16.4}}}},
{"data":{"values":[{"t":"图表：LME铝现货结算价（美元/吨）"}]},"mark":{"type":"text","align":"left","baseline":"middle","fontSize":8.5,"fontWeight":"bold","color":"#1a1a1a"},"encoding":{"text":{"field":"t"},"x":{"value":-30.7},"y":{"value":-31.7}}},
{"data":{"values":[{}]},"mark":{"type":"rule","color":"#a6a6a6","strokeWidth":1},"encoding":{"x":{"value":-33},"x2":{"value":173},"y":{"value":-25}}},
{"data":{"values":[{}]},"mark":{"type":"rule","color":"#a6a6a6","strokeWidth":1},"encoding":{"x":{"value":-33},"x2":{"value":173},"y":{"value":119.3}}},
{"data":{"values":[{"t":"资料来源：Wind、LME、国海证券研究所"}]},"mark":{"type":"text","align":"left","baseline":"middle","fontSize":6.8,"fontWeight":"bold","color":"#1a1a1a"},"encoding":{"text":{"field":"t"},"x":{"value":-27.3},"y":{"value":126}}}
]},
{"width":149,"height":91.3,
"data":{"format":{"parse":{"d":"utc:'%m-%d'"}},"values":[
{"yr":"2021","d":"01-04","v":15600},{"yr":"2021","d":"01-12","v":15300},{"yr":"2021","d":"01-20","v":14900},{"yr":"2021","d":"01-28","v":14900},{"yr":"2021","d":"02-05","v":15000},{"yr":"2021","d":"02-18","v":16100},{"yr":"2021","d":"02-25","v":17300},{"yr":"2021","d":"03-04","v":17100},{"yr":"2021","d":"03-12","v":17400},{"yr":"2021","d":"03-22","v":17300},{"yr":"2021","d":"04-01","v":17400},{"yr":"2021","d":"04-12","v":17700},{"yr":"2021","d":"04-20","v":18300},{"yr":"2021","d":"04-28","v":18800},{"yr":"2021","d":"05-07","v":19700},{"yr":"2021","d":"05-12","v":20000},{"yr":"2021","d":"05-19","v":19100},{"yr":"2021","d":"05-27","v":18900},{"yr":"2021","d":"06-07","v":18800},{"yr":"2021","d":"06-17","v":18500},{"yr":"2021","d":"06-28","v":18700},{"yr":"2021","d":"07-08","v":18800},{"yr":"2021","d":"07-19","v":19400},{"yr":"2021","d":"07-28","v":19700},{"yr":"2021","d":"08-06","v":19800},{"yr":"2021","d":"08-16","v":20300},{"yr":"2021","d":"08-25","v":20600},{"yr":"2021","d":"09-02","v":21700},{"yr":"2021","d":"09-10","v":22700},{"yr":"2021","d":"09-16","v":23200},{"yr":"2021","d":"09-24","v":22700},{"yr":"2021","d":"09-30","v":22800},{"yr":"2021","d":"10-11","v":23600},{"yr":"2021","d":"10-18","v":24200},{"yr":"2021","d":"10-22","v":22300},{"yr":"2021","d":"10-28","v":20200},{"yr":"2021","d":"11-03","v":19100},{"yr":"2021","d":"11-10","v":18400},{"yr":"2021","d":"11-19","v":18700},{"yr":"2021","d":"11-26","v":18800},{"yr":"2021","d":"12-03","v":19000},{"yr":"2021","d":"12-10","v":19300},{"yr":"2021","d":"12-17","v":19200},{"yr":"2021","d":"12-24","v":19700},{"yr":"2021","d":"12-31","v":20200},
{"yr":"2022","d":"01-04","v":20100},{"yr":"2022","d":"01-12","v":21200},{"yr":"2022","d":"01-20","v":21500},{"yr":"2022","d":"01-28","v":21700},{"yr":"2022","d":"02-08","v":22600},{"yr":"2022","d":"02-16","v":22900},{"yr":"2022","d":"02-24","v":22800},{"yr":"2022","d":"03-01","v":23000},{"yr":"2022","d":"03-07","v":23900},{"yr":"2022","d":"03-11","v":23000},{"yr":"2022","d":"03-16","v":22600},{"yr":"2022","d":"03-24","v":23200},{"yr":"2022","d":"03-31","v":22500},{"yr":"2022","d":"04-08","v":22300},{"yr":"2022","d":"04-18","v":22000},{"yr":"2022","d":"04-27","v":21300},{"yr":"2022","d":"05-06","v":20700},{"yr":"2022","d":"05-16","v":20600},{"yr":"2022","d":"05-24","v":20400},{"yr":"2022","d":"06-01","v":20500},{"yr":"2022","d":"06-10","v":20300},{"yr":"2022","d":"06-20","v":19700},{"yr":"2022","d":"06-30","v":19100},{"yr":"2022","d":"07-08","v":18300},{"yr":"2022","d":"07-15","v":17500},{"yr":"2022","d":"07-25","v":17900},{"yr":"2022","d":"08-03","v":18000},{"yr":"2022","d":"08-12","v":18600},{"yr":"2022","d":"08-22","v":18700},{"yr":"2022","d":"08-31","v":18400},{"yr":"2022","d":"09-08","v":18300},{"yr":"2022","d":"09-16","v":18700},{"yr":"2022","d":"09-26","v":18700},{"yr":"2022","d":"10-10","v":18600},{"yr":"2022","d":"10-20","v":18600},{"yr":"2022","d":"10-31","v":18300},{"yr":"2022","d":"11-08","v":18500},{"yr":"2022","d":"11-16","v":18900},{"yr":"2022","d":"11-25","v":18600},{"yr":"2022","d":"12-05","v":18900},{"yr":"2022","d":"12-14","v":18900},{"yr":"2022","d":"12-22","v":18700},{"yr":"2022","d":"12-30","v":18700},
{"yr":"2023","d":"01-03","v":18200},{"yr":"2023","d":"01-10","v":18400},{"yr":"2023","d":"01-18","v":18900},{"yr":"2023","d":"01-30","v":18700},{"yr":"2023","d":"02-08","v":18400},{"yr":"2023","d":"02-17","v":18500},{"yr":"2023","d":"02-27","v":18300},{"yr":"2023","d":"03-07","v":18400},{"yr":"2023","d":"03-16","v":18100},{"yr":"2023","d":"03-27","v":18300},{"yr":"2023","d":"04-06","v":18700},{"yr":"2023","d":"04-14","v":19200},{"yr":"2023","d":"04-24","v":19000},{"yr":"2023","d":"05-05","v":18600},{"yr":"2023","d":"05-15","v":18100},{"yr":"2023","d":"05-24","v":18200},{"yr":"2023","d":"06-02","v":18400},{"yr":"2023","d":"06-12","v":18600},{"yr":"2023","d":"06-21","v":18400},{"yr":"2023","d":"06-30","v":18300},{"yr":"2023","d":"07-10","v":18300},{"yr":"2023","d":"07-19","v":18300},{"yr":"2023","d":"07-28","v":18500},{"yr":"2023","d":"08-08","v":18600},{"yr":"2023","d":"08-17","v":18800},{"yr":"2023","d":"08-28","v":19200},{"yr":"2023","d":"09-06","v":19400},{"yr":"2023","d":"09-14","v":19800},{"yr":"2023","d":"09-22","v":19800},{"yr":"2023","d":"10-09","v":19300},{"yr":"2023","d":"10-19","v":19200},{"yr":"2023","d":"10-30","v":19000},{"yr":"2023","d":"11-08","v":19000},{"yr":"2023","d":"11-17","v":19100},{"yr":"2023","d":"11-27","v":18900},{"yr":"2023","d":"12-06","v":18700},{"yr":"2023","d":"12-14","v":18900},{"yr":"2023","d":"12-22","v":19100},{"yr":"2023","d":"12-29","v":19100},
{"yr":"2024","d":"01-02","v":19000},{"yr":"2024","d":"01-10","v":18900},{"yr":"2024","d":"01-18","v":19000},{"yr":"2024","d":"01-26","v":19200},{"yr":"2024","d":"02-05","v":18900},{"yr":"2024","d":"02-19","v":19000},{"yr":"2024","d":"02-27","v":18900},{"yr":"2024","d":"03-06","v":19000},{"yr":"2024","d":"03-14","v":19300},{"yr":"2024","d":"03-22","v":19500},{"yr":"2024","d":"04-01","v":19900},{"yr":"2024","d":"04-09","v":20300},{"yr":"2024","d":"04-17","v":20700},{"yr":"2024","d":"04-25","v":20400},{"yr":"2024","d":"05-06","v":20600},{"yr":"2024","d":"05-14","v":20900},{"yr":"2024","d":"05-21","v":21400},{"yr":"2024","d":"05-29","v":21100},{"yr":"2024","d":"06-07","v":20700},{"yr":"2024","d":"06-17","v":20400},{"yr":"2024","d":"06-26","v":20400},{"yr":"2024","d":"07-05","v":20400},{"yr":"2024","d":"07-15","v":19900},{"yr":"2024","d":"07-24","v":19400},{"yr":"2024","d":"08-02","v":19300},{"yr":"2024","d":"08-12","v":19300},{"yr":"2024","d":"08-21","v":19600},{"yr":"2024","d":"08-30","v":20000},{"yr":"2024","d":"09-09","v":19700},{"yr":"2024","d":"09-19","v":19900},{"yr":"2024","d":"09-27","v":20400},{"yr":"2024","d":"10-10","v":20800},{"yr":"2024","d":"10-18","v":20900},{"yr":"2024","d":"10-28","v":21000},{"yr":"2024","d":"11-05","v":21500},{"yr":"2024","d":"11-12","v":21100},{"yr":"2024","d":"11-20","v":20700},{"yr":"2024","d":"11-28","v":20400},{"yr":"2024","d":"12-06","v":20300},{"yr":"2024","d":"12-13","v":20200},{"yr":"2024","d":"12-20","v":20100},{"yr":"2024","d":"12-31","v":20000},
{"yr":"2025","d":"01-02","v":19800},{"yr":"2025","d":"01-09","v":20000},{"yr":"2025","d":"01-16","v":20400},{"yr":"2025","d":"01-23","v":20400},{"yr":"2025","d":"02-05","v":20400},{"yr":"2025","d":"02-12","v":20600},{"yr":"2025","d":"02-19","v":20800},{"yr":"2025","d":"02-27","v":20600},{"yr":"2025","d":"03-06","v":20800},{"yr":"2025","d":"03-13","v":20900},{"yr":"2025","d":"03-20","v":20800},{"yr":"2025","d":"03-27","v":20600},{"yr":"2025","d":"04-03","v":20500},{"yr":"2025","d":"04-09","v":19800},{"yr":"2025","d":"04-16","v":19900},{"yr":"2025","d":"04-24","v":20100},{"yr":"2025","d":"05-06","v":20000},{"yr":"2025","d":"05-14","v":20200},{"yr":"2025","d":"05-22","v":20200},{"yr":"2025","d":"05-29","v":20100},{"yr":"2025","d":"06-05","v":20300},{"yr":"2025","d":"06-12","v":20500},{"yr":"2025","d":"06-19","v":20700},{"yr":"2025","d":"06-26","v":20700},{"yr":"2025","d":"07-03","v":20700},{"yr":"2025","d":"07-10","v":20800},{"yr":"2025","d":"07-18","v":20760}]},
"layer":[
{"mark":{"type":"line","strokeWidth":1.1},
 "encoding":{
  "x":{"field":"d","type":"temporal","scale":{"type":"utc","domain":[{"year":1900,"month":1,"date":1,"utc":true},{"year":1900,"month":12,"date":31,"utc":true}]},
   "axis":{"labelExpr":"utcFormat(datum.value, '%m-%d')","values":[{"year":1900,"month":1,"date":1,"utc":true},{"year":1900,"month":1,"date":16,"utc":true},{"year":1900,"month":1,"date":31,"utc":true},{"year":1900,"month":2,"date":15,"utc":true},{"year":1900,"month":3,"date":2,"utc":true},{"year":1900,"month":3,"date":17,"utc":true},{"year":1900,"month":4,"date":1,"utc":true},{"year":1900,"month":4,"date":16,"utc":true},{"year":1900,"month":5,"date":1,"utc":true},{"year":1900,"month":5,"date":16,"utc":true},{"year":1900,"month":5,"date":31,"utc":true},{"year":1900,"month":6,"date":15,"utc":true},{"year":1900,"month":6,"date":30,"utc":true},{"year":1900,"month":7,"date":15,"utc":true},{"year":1900,"month":7,"date":30,"utc":true},{"year":1900,"month":8,"date":14,"utc":true},{"year":1900,"month":8,"date":29,"utc":true},{"year":1900,"month":9,"date":13,"utc":true},{"year":1900,"month":9,"date":28,"utc":true},{"year":1900,"month":10,"date":13,"utc":true},{"year":1900,"month":10,"date":28,"utc":true},{"year":1900,"month":11,"date":12,"utc":true},{"year":1900,"month":11,"date":27,"utc":true},{"year":1900,"month":12,"date":12,"utc":true},{"year":1900,"month":12,"date":27,"utc":true}]}},
  "y":{"field":"v","type":"quantitative","scale":{"domain":[0,25000],"nice":false},"axis":{"values":[0,5000,10000,15000,20000,25000]}},
  "color":{"field":"yr","type":"nominal","scale":{"domain":["2021","2022","2023","2024","2025"],"range":["#3f83d8","#8f9ab0","#bad4f2","#d3d8e0","#1f3db5"]},"legend":{"title":null,"legendX":-15,"legendY":-16.4}}}},
{"data":{"values":[{"t":"图表：长江有色A00铝均价（元/吨）"}]},"mark":{"type":"text","align":"left","baseline":"middle","fontSize":8.5,"fontWeight":"bold","color":"#1a1a1a"},"encoding":{"text":{"field":"t"},"x":{"value":-30.7},"y":{"value":-32.4}}},
{"data":{"values":[{}]},"mark":{"type":"rule","color":"#a6a6a6","strokeWidth":1},"encoding":{"x":{"value":-32},"x2":{"value":168},"y":{"value":-25}}},
{"data":{"values":[{}]},"mark":{"type":"rule","color":"#a6a6a6","strokeWidth":1},"encoding":{"x":{"value":-32},"x2":{"value":168},"y":{"value":119.3}}},
{"data":{"values":[{"t":"资料来源：Wind、国海证券研究所"}]},"mark":{"type":"text","align":"left","baseline":"middle","fontSize":6.8,"fontWeight":"bold","color":"#1a1a1a"},"encoding":{"text":{"field":"t"},"x":{"value":-31.3},"y":{"value":126}}}
]}
]}
